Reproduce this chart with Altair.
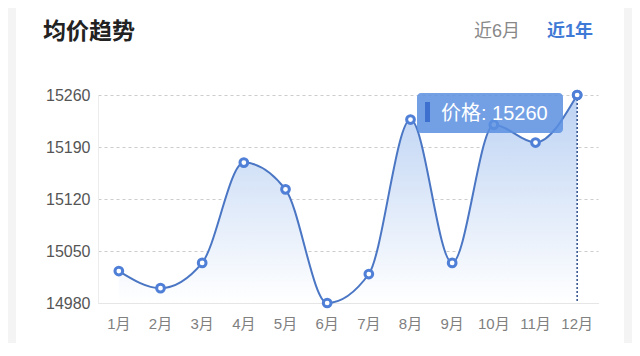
import altair as alt
import pandas as pd

months = ["1月", "2月", "3月", "4月", "5月", "6月", "7月", "8月", "9月", "10月", "11月", "12月"]
prices = [15023, 15000, 15034, 15169, 15133, 14980, 15019, 15227, 15034, 15220, 15196, 15260]
y_ticks = [14980, 15050, 15120, 15190, 15260]
title_text = "均价趋势"
tab_a = "近6月"
tab_b = "近1年"
tip_label = "价格: 15260"
tip_month = "12月"

FONT = "Liberation Sans, Noto Sans CJK SC, sans-serif"
BLUE = "#4a76c4"

df = pd.DataFrame({"month": months, "price": prices})
one = alt.Chart(pd.DataFrame({"k": [0]}))

W, H = 500, 208

xenc = alt.X("month:N", sort=months, title=None,
             axis=alt.Axis(labelAngle=0, ticks=False, domainColor="#e6e6e6",
                           labelPadding=13, labelFontSize=15, labelColor="#808080",
                           labelFont=FONT, labelFontWeight=400, grid=False),
             scale=alt.Scale(paddingInner=0, paddingOuter=0))
yenc = alt.Y("price:Q", title=None,
             scale=alt.Scale(domain=[14980, 15260], zero=False, nice=False),
             axis=alt.Axis(values=y_ticks, format="d", ticks=False, domainColor="#ececec",
                           labelPadding=8, labelFontSize=16, labelColor="#555555",
                           labelFont=FONT, labelFontWeight=400, grid=True,
                           gridColor="#cccccc", gridDash=[3, 3]))

base = alt.Chart(df)

side_l = one.mark_rect(color="#f4f4f4").encode(
    x=alt.value(-90), x2=alt.value(-82), y=alt.value(-87), y2=alt.value(253))
side_r = one.mark_rect(color="#f4f4f4").encode(
    x=alt.value(526), x2=alt.value(534), y=alt.value(-87), y2=alt.value(253))

area = base.mark_area(
    interpolate="monotone",
    color=alt.Gradient(gradient="linear",
                       stops=[alt.GradientStop(color="#bcd2f3", offset=0),
                              alt.GradientStop(color="#ffffff", offset=1)],
                       x1=0, x2=0, y1=0, y2=1)
).encode(x=xenc, y=yenc, y2=alt.datum(14980))

line = base.mark_line(interpolate="monotone", color=BLUE, strokeWidth=2).encode(x=xenc, y=yenc)

rule = alt.Chart(pd.DataFrame({"month": [tip_month]})).mark_rule(
    color="#2d4e8a", strokeDash=[2, 2], strokeWidth=1.5
).encode(x=alt.X("month:N", sort=months), y=alt.value(0), y2=alt.value(H))

points = base.mark_point(filled=True, fill="white", stroke="#4f7fd6", strokeWidth=3,
                         size=60, opacity=1).encode(x=xenc, y=yenc)

tip_rect = one.mark_rect(color="#5b8fe0", opacity=0.85, cornerRadius=4).encode(
    x=alt.value(319), x2=alt.value(465), y=alt.value(-2), y2=alt.value(38))
tip_bar = one.mark_rect(color="#3d70cf").encode(
    x=alt.value(327), x2=alt.value(332), y=alt.value(7), y2=alt.value(27))
tip_text = one.mark_text(text=tip_label, color="white", fontSize=20, font=FONT,
                         fontWeight=400, align="left", baseline="middle").encode(
    x=alt.value(343), y=alt.value(19))

last_point = alt.Chart(df[df.month == tip_month]).mark_point(
    filled=True, fill="white", stroke="#4f7fd6", strokeWidth=3, size=60, opacity=1
).encode(x=xenc, y=yenc)

title = one.mark_text(text=title_text, color="#222222", fontSize=23, fontWeight="bold",
                      font=FONT, align="left", baseline="middle").encode(
    x=alt.value(-55), y=alt.value(-63))
ta = one.mark_text(text=tab_a, color="#888888", fontSize=18, font=FONT, fontWeight=400,
                   align="left", baseline="middle").encode(x=alt.value(376), y=alt.value(-63))
tb = one.mark_text(text=tab_b, color="#3f7ad6", fontSize=18, fontWeight="bold", font=FONT,
                   align="left", baseline="middle").encode(x=alt.value(449), y=alt.value(-63))

chart = alt.layer(side_l, side_r, area, line, rule, points, tip_rect, tip_bar, tip_text,
                  last_point, title, ta, tb).properties(
    width=W, height=H,
    autosize=alt.AutoSizeParams(type="none"),
    padding={"left": 90, "top": 87, "right": 34, "bottom": 40},
    background="white",
).configure_view(stroke=None)

chart.save("out.html", embed_options={"renderer": "svg", "actions": False})
